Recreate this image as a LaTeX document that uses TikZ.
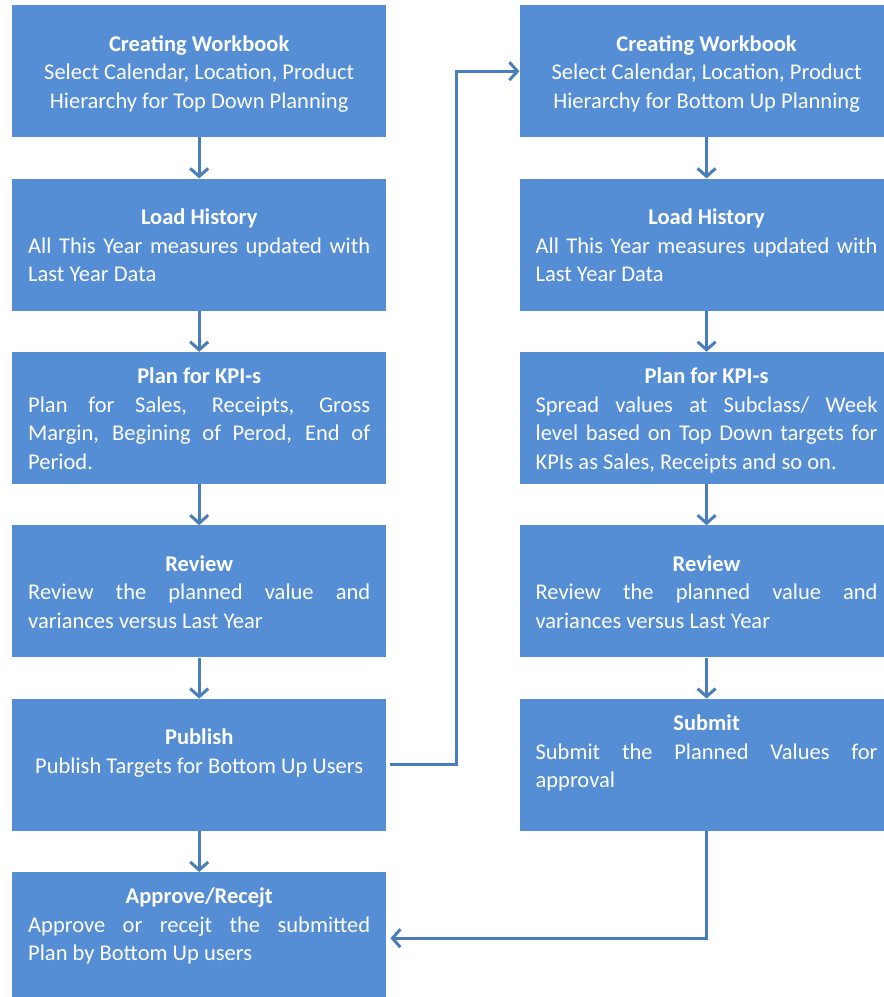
\documentclass[tikz,border=0pt]{standalone}
\usepackage{fontspec}
\setmainfont{Carlito}
\usepackage{tikz}
\usetikzlibrary{arrows.meta, positioning}
\definecolor{boxblue}{HTML}{558ED5}
\definecolor{lineblue}{HTML}{4A7EBB}
\setlength{\parindent}{0pt}
\tolerance=9999
\hyphenpenalty=10000
\newcommand{\boxstrut}{\rule[-5.75pt]{0pt}{28.5pt}}
\newcommand{\boxtitle}[1]{{\centering\bfseries\boxstrut#1\par}}
\tikzset{
>={Straight Barb[length=8pt,width=18pt]}, % open arrow heads
node distance=41pt, % gap between two boxes
stepbox/.style={rectangle, fill=boxblue, text=white, text width=342pt, align=justify,
  minimum width=374pt, minimum height=132pt, inner xsep=16pt, inner ysep=0pt,
  font=\fontsize{22.5}{28.5}\selectfont}, % one step of the plan
flow/.style={->, draw=lineblue, line width=3pt}, % connector
}

\begin{document}
\begin{tikzpicture}
  \useasboundingbox (0,0) rectangle (884pt,-997pt);
  \clip (0,0) rectangle (884pt,-997pt);

  % top down planning
  \node[stepbox, anchor=north west] (wbtop) at (12pt,-5pt)
    {\boxtitle{Creating Workbook}{\centering Select Calendar, Location, Product\par Hierarchy for Top Down Planning\boxstrut\par}};
  \node[stepbox, below=of wbtop] (histtop)
    {\boxtitle{Load History}All This Year measures updated with\linebreak Last Year Data\boxstrut};
  \node[stepbox, below=of histtop] (kpitop)
    {\boxtitle{Plan for KPI-s}Plan for Sales, Receipts, Gross\linebreak Margin, Begining of Perod, End of\linebreak Period.\boxstrut};
  \node[stepbox, below=of kpitop] (revtop)
    {\boxtitle{Review}Review the planned value and\linebreak variances versus Last Year\boxstrut};
  \node[stepbox, below=of revtop] (pubtop)
    {\boxtitle{Publish}{\centering Publish Targets for Bottom Up Users\par}\boxstrut};
  \node[stepbox, below=of pubtop] (aprtop)
    {\boxtitle{Approve/Recejt}Approve or recejt the submitted\linebreak Plan by Bottom Up users\par\boxstrut};

  % bottom up planning
  \node[stepbox, right=133pt of wbtop] (wbbot)
    {\boxtitle{Creating Workbook}{\centering Select Calendar, Location, Product\par Hierarchy for Bottom Up Planning\boxstrut\par}};
  \node[stepbox, below=of wbbot] (histbot)
    {\boxtitle{Load History}All This Year measures updated with\linebreak Last Year Data\boxstrut};
  \node[stepbox, below=of histbot] (kpibot)
    {\boxtitle{Plan for KPI-s}Spread values at Subclass/ Week\linebreak level based on Top Down targets for\linebreak KPIs as Sales, Receipts and so on.\boxstrut};
  \node[stepbox, below=of kpibot] (revbot)
    {\boxtitle{Review}Review the planned value and\linebreak variances versus Last Year\boxstrut};
  \node[stepbox, below=of revbot] (subbot)
    {\boxtitle{Submit}Submit the Planned Values for\linebreak approval\par\boxstrut};

  \path[flow]
  (wbtop) edge (histtop)
  (histtop) edge (kpitop)
  (kpitop) edge (revtop)
  (revtop) edge (pubtop)
  (pubtop) edge (aprtop)
  (wbbot) edge (histbot)
  (histbot) edge (kpibot)
  (kpibot) edge (revbot)
  (revbot) edge (subbot);

  \draw[flow, shorten <=4pt] (pubtop.east) -- ++(70pt,0) |- (wbbot.west);
  \draw[flow, shorten >=4pt] (subbot.south) |- (aprtop.east);
\end{tikzpicture}
\end{document}
